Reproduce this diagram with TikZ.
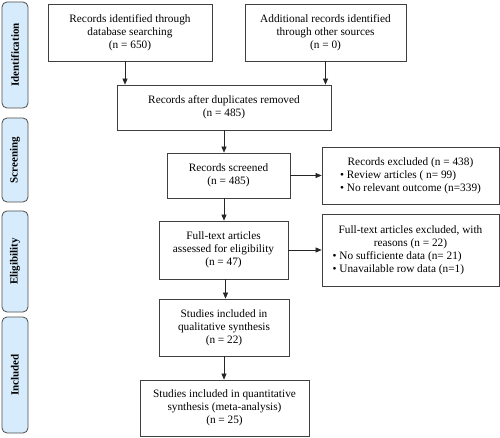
\documentclass[tikz,border=0pt]{standalone}
\usepackage{fontspec}
\setmainfont{Liberation Serif}
\usetikzlibrary{arrows.meta}
\definecolor{phasefill}{RGB}{214,236,252}
\tikzset{
  flowbox/.style={draw=black!75, line width=0.8pt, align=center, inner sep=2pt,
    font=\fontsize{11.3}{13}\selectfont},
  phasebox/.style={draw=black!70, line width=0.8pt, fill=phasefill, rounded corners=5pt,
    minimum width=26pt},
  phasetext/.style={rotate=90, font=\fontsize{11}{12}\selectfont\bfseries},
  flowarrow/.style={-{Triangle[length=6pt,width=5pt]}, line width=0.6pt, black!85}
}
\begin{document}
\begin{tikzpicture}[x=1pt, y=-1pt]
	\useasboundingbox (0,0) rectangle (500,438);
	
	%%%%% phases %%%%%
	\node[phasebox, minimum height=106pt] (ident) at (15, 55) {};
	\node[phasetext] at (ident.center) {Identification};
	\node[phasebox, minimum height=84pt] (screen) at (15, 160) {};
	\node[phasetext] at (screen.center) {Screening};
	\node[phasebox, minimum height=101pt] (elig) at (15, 261.5) {};
	\node[phasetext] at (elig.center) {Eligibility};
	\node[phasebox, minimum height=116pt] (incl) at (15, 375) {};
	\node[phasetext] at (incl.center) {Included};
	
	%%%%% boxes %%%%%
	\node[flowbox, minimum width=164pt, minimum height=57pt] (dbsearch) at (130, 32.5)
		{Records identified through\\database searching\\(n = 650)};
	\node[flowbox, minimum width=161pt, minimum height=57pt] (othersrc) at (325.5, 32.5)
		{Additional records identified\\through other sources\\(n = 0)};
	\node[flowbox, minimum width=214pt, minimum height=45pt] (dedup) at (224, 107.5)
		{Records after duplicates removed\\(n = 485)};
	\node[flowbox, minimum width=123pt, minimum height=45pt] (screened) at (228.5, 175.5)
		{Records screened\\(n = 485)};
	\node[flowbox, minimum width=177pt, minimum height=57pt] (excluded) at (410.5, 175.5)
		{\begin{tabular}{@{}l@{}}\multicolumn{1}{c}{Records excluded (n = 438)}\\
		 • Review articles ( n= 99)\\ • No relevant outcome (n=339)\end{tabular}};
	\node[flowbox, minimum width=129pt, minimum height=58pt] (fulltext) at (223.5, 250)
		{Full-text articles\\assessed for eligibility\\(n = 47)};
	\node[flowbox, minimum width=177pt, minimum height=72pt] (ftexcl) at (410.5, 250)
		{\begin{tabular}{@{}l@{}}\multicolumn{1}{c}{Full-text articles excluded, with}\\
		 \multicolumn{1}{c}{reasons (n = 22)}\\
		 • No sufficiente data (n= 21)\\ • Unavailable row data (n=1)\end{tabular}};
	\node[flowbox, minimum width=130pt, minimum height=57pt] (qualit) at (224, 327.5)
		{Studies included in\\qualitative synthesis\\(n = 22)};
	\node[flowbox, minimum width=169pt, minimum height=56pt] (quant) at (224.5, 408)
		{Studies included in quantitative\\synthesis (meta-analysis)\\(n = 25)};
	
	%%%%% arrows %%%%%
	\draw[flowarrow] ([xshift=-5pt]dbsearch.south) -- ([xshift=-5pt]dbsearch.south |- dedup.north);
	\draw[flowarrow] (othersrc.south) -- (othersrc.south |- dedup.north);
	\draw[flowarrow] (dedup.south) -- (dedup.south |- screened.north);
	\draw[flowarrow] (screened.east) -- (excluded.west);
	\draw[flowarrow] (dedup.south |- screened.south) -- (dedup.south |- fulltext.north);
	\draw[flowarrow] (fulltext.east) -- (ftexcl.west);
	\draw[flowarrow] ([xshift=2pt]fulltext.south) -- ([xshift=2pt]fulltext.south |- qualit.north);
	\draw[flowarrow] (qualit.south) -- (qualit.south |- quant.north);
\end{tikzpicture}
\end{document}
